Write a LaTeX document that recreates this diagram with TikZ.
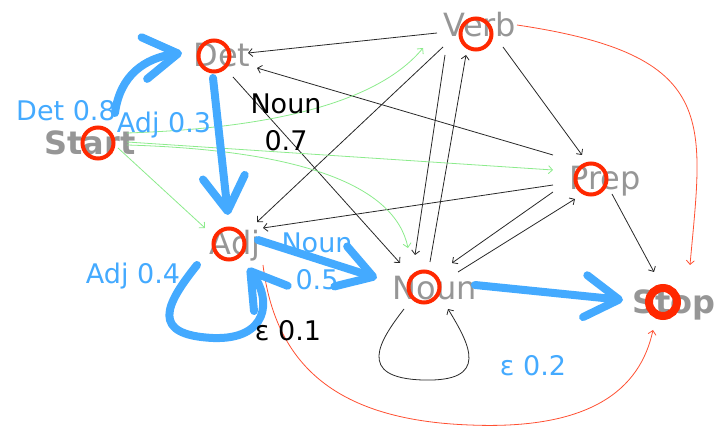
\documentclass[tikz,border=0pt]{standalone}
\usepackage{fontspec}
\setmainfont{DejaVu Sans}
\usetikzlibrary{arrows.meta}
\definecolor{stgray}{RGB}{150,150,150}
\definecolor{hblue}{RGB}{68,170,255}
\definecolor{ringred}{RGB}{255,40,0}
\definecolor{lgreen}{RGB}{140,235,140}
\definecolor{lred}{RGB}{255,80,50}
\definecolor{edgek}{RGB}{40,40,40}
\begin{document}
\begin{tikzpicture}[x=1pt,y=-1pt,
  state/.style={text=stgray, font=\fontsize{32}{38}\selectfont, inner sep=0pt, text height=23.3pt, text depth=0pt},
  bstate/.style={state, font=\fontsize{32}{38}\selectfont\bfseries},
  ring/.style={circle, draw=ringred, line width=4pt, minimum size=31pt, inner sep=0pt},
  bigring/.style={circle, draw=ringred, line width=8pt, minimum size=28pt, inner sep=0pt},
  lbl/.style={font=\fontsize{27}{37}\selectfont, inner sep=0pt, anchor=base, align=center},
  blbl/.style={lbl, text=hblue},
  klbl/.style={lbl, text=black},
  tedge/.style={draw=edgek, line width=0.8pt, -{Straight Barb[length=4pt,width=8pt]}},
  gedge/.style={draw=lgreen, line width=0.8pt, -{Straight Barb[length=4pt,width=8pt]}},
  redge/.style={draw=lred, line width=0.8pt, -{Straight Barb[length=4pt,width=8pt]}},
  hedge/.style={draw=hblue, line width=8pt, line cap=round, line join=round, -{Straight Barb[length=34pt,width=42pt,round]}},
]
\useasboundingbox (0,0) rectangle (716,430);

% state labels
\node[bstate] (start) at (90,143) {Start};
\node[state] (det) at (222,55) {Det};
\node[state] (verb) at (480,25) {Verb};
\node[state] (prep) at (605,178) {Prep};
\node[state] (adj) at (235,243) {Adj};
\node[state] (noun) at (435,288) {Noun};
\node[bstate] (stop) at (674,302) {Stop};

% thin black edges
\draw[tedge] ([shift={(-43,8)}]verb.center) -- ([shift={(26,-2)}]det.center);
\draw[tedge] ([shift={(-52,-23)}]prep.center) -- ([shift={(35,13)}]det.center);
\draw[tedge] ([shift={(11,22)}]det.center) -- ([shift={(-35,-25)}]noun.center);
\draw[tedge] ([shift={(-37,22)}]verb.center) -- ([shift={(22,-21)}]adj.center);
\draw[tedge] ([shift={(-52,7)}]prep.center) -- ([shift={(28,-15)}]adj.center);
\draw[tedge] ([shift={(-35,30)}]verb.center) -- ([shift={(-20,-33)}]noun.center);
\draw[tedge] ([shift={(-5,-26)}]noun.center) -- ([shift={(-14,30)}]verb.center);
\draw[tedge] ([shift={(23,22)}]verb.center) -- ([shift={(-23,-23)}]prep.center);
\draw[tedge] ([shift={(-52,14)}]prep.center) -- ([shift={(17,-25)}]noun.center);
\draw[tedge] ([shift={(23,-16)}]noun.center) -- ([shift={(-30,21)}]prep.center);
\draw[tedge] ([shift={(7,16)}]prep.center) -- ([shift={(-20,-30)}]stop.center);
\draw[tedge] ([shift={(-31,21)}]noun.center)
  .. controls ([shift={(-55,52)}]noun.center) and ([shift={(-80,90)}]noun.center) .. ([shift={(-12,92)}]noun.center)
  .. controls ([shift={(55,94)}]noun.center) and ([shift={(35,57)}]noun.center) .. ([shift={(13,21)}]noun.center);

% green edges
\draw[gedge] ([shift={(37,-10)}]start.center) .. controls ([shift={(190,-15)}]start.center) and ([shift={(-100,75)}]verb.center) .. ([shift={(-57,23)}]verb.center);
\draw[gedge] ([shift={(37,-1)}]start.center) -- ([shift={(-52,-8)}]prep.center);
\draw[gedge] ([shift={(37,2)}]start.center) .. controls ([shift={(210,7)}]start.center) and ([shift={(-40,-103)}]noun.center) .. ([shift={(-27,-40)}]noun.center);
\draw[gedge] ([shift={(28,5)}]start.center) -- ([shift={(-30,-15)}]adj.center);

% red edges
\draw[redge] ([shift={(37,0)}]verb.center) .. controls ([shift={(240,30)}]verb.center) and ([shift={(29,-182)}]stop.center) .. ([shift={(16,-37)}]stop.center);
\draw[redge] ([shift={(28,22)}]adj.center)
  .. controls ([shift={(40,117)}]adj.center) and ([shift={(95,177)}]adj.center) .. ([shift={(35,137)}]noun.center)
  .. controls ([shift={(-84,128)}]stop.center) and ([shift={(-34,88)}]stop.center) .. ([shift={(-21,28)}]stop.center);

% rings
\node[ring] (cstart) at (98,143) {};
\node[ring] (cdet) at (214,56) {};
\node[ring] (cverb) at (476,34) {};
\node[ring] (cprep) at (591,179) {};
\node[ring] (cadj) at (229,244) {};
\node[ring] (cnoun) at (424,287) {};
\node[bigring] (cstop) at (663,302) {};

% labels
\node[blbl] (l1) at (66,121) {Det 0.8};
\node[blbl] (l2) at (164,133) {Adj 0.3};
\node[klbl] (l3) at (286,151) {Noun\\0.7};
\node[blbl] (l4) at (317,290) {Noun\\0.5};
\node[blbl] (l5) at (133,284) {Adj 0.4};
\node[blbl] (l7) at (533,376) {ε 0.2};

% thick blue path
\draw[hedge] ([shift={(25,-30)}]start.center) .. controls ([shift={(30,-68)}]start.center) and ([shift={(-77,3)}]det.center) .. ([shift={(-40,-2)}]det.center);
\draw[hedge] ([shift={(-9,23)}]det.center) -- ([shift={(-7,-28)}]adj.center);
\draw[hedge] ([shift={(-38,22)}]adj.center)
  .. controls ([shift={(-70,62)}]adj.center) and ([shift={(-85,92)}]adj.center) .. ([shift={(-22,95)}]adj.center)
  .. controls ([shift={(33,97)}]adj.center) and ([shift={(37,57)}]adj.center) .. ([shift={(13,25)}]adj.center);
\draw[hedge] ([shift={(23,-3)}]adj.center) -- ([shift={(-58,-10)}]noun.center);
\draw[hedge] ([shift={(40,-3)}]noun.center) -- ([shift={(-51,-2)}]stop.center);

\node[klbl] (l6) at (288,341) {ε 0.1};
\end{tikzpicture}
\end{document}
